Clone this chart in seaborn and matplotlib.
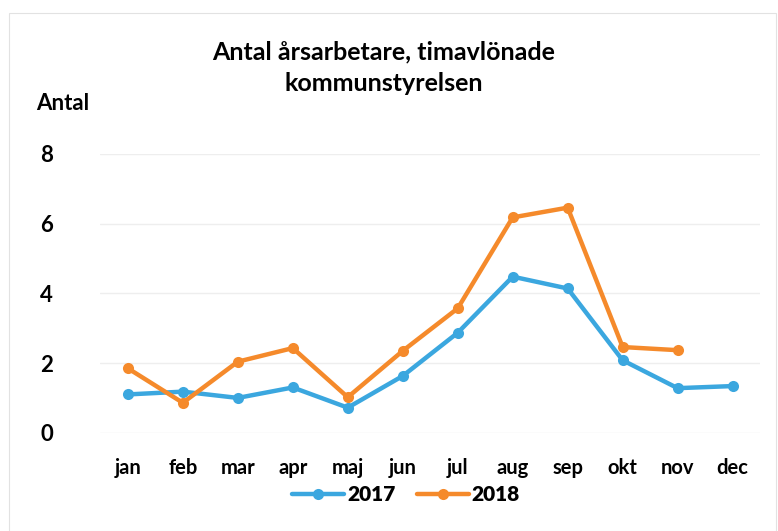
import numpy as np
import pandas as pd
import matplotlib
matplotlib.use("Agg")
import matplotlib.pyplot as plt
import seaborn as sns

months = ["jan", "feb", "mar", "apr", "maj", "jun", "jul", "aug", "sep", "okt", "nov", "dec"]
values_2017 = [1.1, 1.18, 1.0, 1.3, 0.72, 1.63, 2.87, 4.48, 4.14, 2.08, 1.28, 1.34]
values_2018 = [1.85, 0.86, 2.04, 2.43, 1.02, 2.35, 3.57, 6.18, 6.46, 2.46, 2.37]
years = ["2017", "2018"]
colors = ["#3BA7DF", "#F58A2B"]

# long format for seaborn
rows = []
for year, vals in zip(years, [values_2017, values_2018]):
    for i, v in enumerate(vals):
        rows.append({"month": i, "value": v, "year": year})
df = pd.DataFrame(rows)

sns.set_style("white")
plt.rcParams["font.family"] = ["Lato", "DejaVu Sans"]
plt.rcParams["font.weight"] = "bold"
plt.rcParams["text.color"] = "black"
plt.rcParams["xtick.color"] = "black"
plt.rcParams["ytick.color"] = "black"

fig = plt.figure(figsize=(7.78, 5.31), dpi=100)
ax = fig.add_axes([0.129, 0.185, 0.848, 0.525])

sns.lineplot(data=df, x="month", y="value", hue="year", palette=colors,
             marker="o", markersize=8, markeredgewidth=0, linewidth=3.2, ax=ax, legend=True)

ax.set_xlim(-0.5, 11.5)
ax.set_ylim(0, 8)
ax.set_yticks([0, 2, 4, 6, 8])
ax.set_xticks(range(len(months)))
ax.set_xticklabels(months)
ax.tick_params(axis="x", labelsize=14.5, length=0, pad=18)
ax.tick_params(axis="y", labelsize=16, length=0, pad=34)
for lab in ax.get_xticklabels() + ax.get_yticklabels():
    lab.set_fontweight("bold")
ax.grid(axis="y", color="#EEEEEE", linewidth=1)
ax.set_axisbelow(True)
for s in ax.spines.values():
    s.set_visible(False)
ax.set_xlabel("")
ax.set_ylabel("")

fig.text(0.047, 0.805, "Antal", fontsize=16, fontweight="bold", ha="left", va="center")
fig.text(0.493, 0.873, "Antal årsarbetare, timavlönade\nkommunstyrelsen", fontsize=18,
         fontweight="bold", ha="center", va="center", linespacing=1.45)

handles, labels = ax.get_legend_handles_labels()
ax.legend(handles, labels, loc="center", bbox_to_anchor=(0.522, 0.068), bbox_transform=fig.transFigure,
          ncol=2, frameon=False, prop={"family": ["Lato", "DejaVu Sans"], "weight": "heavy", "size": 15},
          handlelength=2.5, columnspacing=1.0, handletextpad=0.15)

fig.patches.append(plt.Rectangle((0.012, 0.0), 0.985, 0.975, transform=fig.transFigure,
                                 fill=False, edgecolor="#E2E2E2", linewidth=0.8))

fig.savefig("out.png", dpi=100, facecolor="white")
